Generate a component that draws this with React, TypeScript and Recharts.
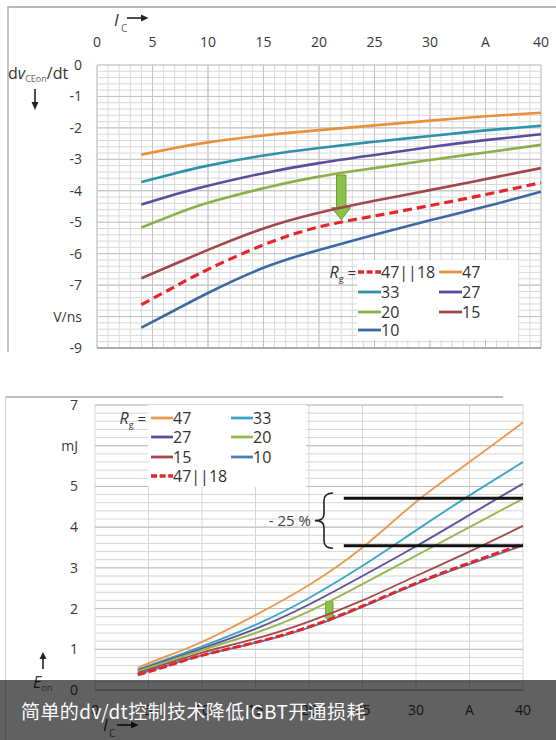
import React from 'react';
import { LineChart, Line, XAxis, YAxis, CartesianGrid, ReferenceLine, ReferenceArea } from 'recharts';

// ---------- shared ----------
const icTicks = [0, 5, 10, 15, 20, 25, 30, 35, 40];
const tickFmtX = (v: number) => (v === 35 ? 'A' : String(v));

// ---------- top chart: dv/dt (V/ns) vs Ic (A) ----------
const icTop = [4, 7, 10, 15, 20, 25, 30, 35, 40];
const dv47 = [-2.85, -2.64, -2.46, -2.24, -2.07, -1.92, -1.77, -1.63, -1.52];
const dv33 = [-3.72, -3.45, -3.2, -2.88, -2.64, -2.44, -2.26, -2.08, -1.93];
const dv27 = [-4.44, -4.12, -3.84, -3.44, -3.12, -2.86, -2.61, -2.39, -2.2];
const dv20 = [-5.17, -4.75, -4.38, -3.92, -3.55, -3.28, -3.02, -2.78, -2.54];
const dv15 = [-6.78, -6.33, -5.88, -5.2, -4.7, -4.32, -3.98, -3.63, -3.28];
const dv10 = [-8.35, -7.8, -7.25, -6.45, -5.88, -5.4, -4.94, -4.5, -4.03];
const dvPar = [-7.62, -7.05, -6.5, -5.72, -5.15, -4.8, -4.47, -4.12, -3.74];
const topYTicks = [0, -1, -2, -3, -4, -5, -6, -7, -8, -9];
const topYFmt = (v: number) => (v === -8 ? 'V/ns' : String(v));

// ---------- bottom chart: Eon (mJ) vs Ic (A) ----------
const icBot = [4, 7, 10, 15, 20, 25, 30, 35, 40];
const e47 = [0.55, 0.86, 1.18, 1.84, 2.58, 3.5, 4.62, 5.6, 6.57];
const e33 = [0.5, 0.78, 1.07, 1.6, 2.26, 3.05, 3.92, 4.78, 5.6];
const e27 = [0.48, 0.75, 1.02, 1.5, 2.1, 2.8, 3.53, 4.3, 5.07];
const e20 = [0.46, 0.72, 0.98, 1.4, 1.93, 2.6, 3.3, 4.0, 4.7];
const e15 = [0.42, 0.67, 0.92, 1.26, 1.68, 2.2, 2.8, 3.4, 4.03];
const e10 = [0.39, 0.62, 0.85, 1.16, 1.53, 2.04, 2.6, 3.09, 3.55];
const ePar = [0.37, 0.61, 0.85, 1.17, 1.55, 2.06, 2.62, 3.12, 3.58];
const botYTicks = [0, 1, 2, 3, 4, 5, 6, 7];
const botYFmt = (v: number) => (v === 6 ? 'mJ' : String(v));

// annotation values
const topArrow = { ic: 22, from: -3.5, to: -4.92 };
const botArrow = { ic: 21.9, from: 2.17, to: 1.68 };
const levelHigh = 4.71;
const levelLow = 3.54;
const levelStart = 23.25;
const braceLabel = '- 25 %';

// series keys / labels
const keys = ['r47', 'r33', 'r27', 'r20', 'r15', 'r10', 'par'];
const labels: Record<string, string> = { r47: '47', r33: '33', r27: '27', r20: '20', r15: '15', r10: '10', par: '47||18' };

const topColors: Record<string, string> = {
  r47: '#E8903C', r33: '#2E93A8', r27: '#5D4C9B', r20: '#8BB04A', r15: '#A1474B', r10: '#3C69A4', par: '#E4262A',
};
const botColors: Record<string, string> = {
  r47: '#EC9A4E', r33: '#3BA5C6', r27: '#5F509E', r20: '#95B850', r15: '#A44A4E', r10: '#4C7DB6', par: '#E4262A',
};

const topRows = icTop.map((ic, i) => ({
  ic, r47: dv47[i], r33: dv33[i], r27: dv27[i], r20: dv20[i], r15: dv15[i], r10: dv10[i], par: dvPar[i],
}));
const botRows = icBot.map((ic, i) => ({
  ic, r47: e47[i], r33: e33[i], r27: e27[i], r20: e20[i], r15: e15[i], r10: e10[i], par: ePar[i],
}));

// legend layouts (order as in picture)
const topLegendOrder = [['par', 'r47'], ['r33', 'r27'], ['r20', 'r15'], ['r10']];
const botLegendOrder = [['r47', 'r33'], ['r27', 'r20'], ['r15', 'r10'], ['par']];

// grid values
const range = (a: number, b: number, step: number) => {
  const out: number[] = [];
  for (let v = a; v <= b + 1e-9; v += step) out.push(Math.round(v * 100) / 100);
  return out;
};
const topMinorY = range(-9, 0, 0.2);
const topMinorX = range(0, 40, 1);
const botMinorY = range(0, 7, 0.2);

const FONT = '"Open Sans", "Liberation Sans", sans-serif';
const tickStyle = { fontSize: 14, fill: '#383838', fontFamily: FONT };

const ArrowShape = (props: any) => {
  const { x, y, width, height, stemRatio = 0.48, headRatio = 0.73 } = props;
  if (x == null) return null;
  const cx = x + width / 2;
  const sw = width * stemRatio;
  const hy = y + height * headRatio;
  const pts = [
    [cx - sw / 2, y], [cx + sw / 2, y], [cx + sw / 2, hy], [x + width, hy],
    [cx, y + height], [x, hy], [cx - sw / 2, hy],
  ];
  return (
    <polygon
      points={pts.map((p) => p.join(',')).join(' ')}
      fill="#8DC24A"
      stroke="#6A9C34"
      strokeWidth={1}
    />
  );
};

const BraceShape = (props: any) => {
  const { x, y, width: w, height: h } = props;
  if (x == null) return null;
  const m = x + w * 0.5;
  const d = `M ${x + w} ${y} Q ${m} ${y} ${m} ${y + h * 0.14} L ${m} ${y + h * 0.38} Q ${m} ${y + h * 0.5} ${x} ${y + h * 0.5} Q ${m} ${y + h * 0.5} ${m} ${y + h * 0.62} L ${m} ${y + h * 0.86} Q ${m} ${y + h} ${x + w} ${y + h}`;
  return (
    <g>
      <path d={d} fill="none" stroke="#222" strokeWidth={1.6} />
      <text x={x - 4} y={y + h / 2 + 5} textAnchor="end" fontSize={15} fill="#444" fontFamily={FONT}>
        {braceLabel}
      </text>
    </g>
  );
};

const LegendSample = ({ color, dashed, w }: { color: string; dashed: boolean; w: number }) => (
  <svg width={w} height={6} style={{ display: 'block' }}>
    <line x1={0} y1={3} x2={w} y2={3} stroke={color} strokeWidth={dashed ? 3.4 : 2.8} strokeDasharray={dashed ? '6 2.6' : undefined} />
  </svg>
);

const Legend = ({ order, colors, colX, rowY, sampleW }: any) => (
  <>
    {order.map((row: string[], r: number) =>
      row.map((k: string, c: number) => (
        <div
          key={k}
          style={{
            position: 'absolute', left: colX[c], top: rowY[r] - 10, height: 20,
            display: 'flex', alignItems: 'center', whiteSpace: 'nowrap',
          }}
        >
          <LegendSample color={colors[k]} dashed={k === 'par'} w={sampleW} />
          <span style={{ fontSize: 16, color: '#333', fontFamily: FONT, lineHeight: '20px' }}>{labels[k]}</span>
        </div>
      ))
    )}
  </>
);

const Rg = ({ right, cy }: { right: number; cy: number }) => (
  <div style={{ position: 'absolute', left: right - 30, width: 30, top: cy - 10, height: 20, fontFamily: FONT, color: '#333', whiteSpace: 'nowrap', textAlign: 'right', lineHeight: '20px' }}>
    <i style={{ fontSize: 16 }}>R</i>
    <span style={{ fontSize: 9, verticalAlign: -4 }}>g</span>
    <span style={{ fontSize: 15 }}> =</span>
  </div>
);

const RightArrow = ({ left, top }: { left: number; top: number }) => (
  <svg width={22} height={8} style={{ position: 'absolute', left, top }}>
    <line x1={0} y1={4} x2={15} y2={4} stroke="#222" strokeWidth={1.6} />
    <polygon points="14,0.5 21.5,4 14,7.5" fill="#222" />
  </svg>
);

export default function App() {
  return (
    <div style={{ position: 'absolute', left: 0, top: 0, width: 556, height: 740, background: '#fff', overflow: 'hidden', fontFamily: FONT }}>
      {/* frames */}
      <div style={{ position: 'absolute', left: 7, top: 6, width: 549, height: 1.5, background: '#b9b9b9' }} />
      <div style={{ position: 'absolute', left: 7, top: 6, width: 1.5, height: 346, background: '#c4c4c4' }} />
      <div style={{ position: 'absolute', left: 5, top: 396, width: 498, height: 1.5, background: '#bdbdbd' }} />
      <div style={{ position: 'absolute', left: 5, top: 396, width: 1.2, height: 344, background: '#d0d0d0' }} />

      {/* ---------- TOP CHART ---------- */}
      <div style={{ position: 'absolute', left: 0, top: 0 }}>
        <LineChart width={556} height={356} data={topRows} margin={{ top: 0, right: 15, bottom: 8, left: 0 }}>
          <CartesianGrid horizontalValues={topMinorY} verticalValues={topMinorX} stroke="#d9d9d9" strokeWidth={1} />
          <CartesianGrid horizontalValues={topYTicks} verticalValues={icTicks} stroke="#c2c2c2" strokeWidth={1} />
          <XAxis
            dataKey="ic" type="number" domain={[0, 40]} ticks={icTicks} orientation="top" height={65}
            tickFormatter={tickFmtX} tickLine={false} axisLine={false} tickSize={0} tickMargin={18} interval={0} tick={tickStyle}
          />
          <YAxis
            type="number" domain={[-9, 0]} ticks={topYTicks} width={97} tickFormatter={topYFmt}
            tickLine={false} axisLine={false} tickSize={0} tickMargin={15} interval={0} tick={tickStyle}
          />
          <ReferenceLine y={-9} stroke="#9c9c9c" strokeWidth={1.5} />
          {keys.map((k) => (
            <Line
              key={k} dataKey={k} type="natural" stroke={topColors[k]} dot={false} isAnimationActive={false}
              strokeWidth={k === 'par' ? 3.2 : 2.6} strokeDasharray={k === 'par' ? '9 5' : undefined}
            />
          ))}
          <ReferenceArea
            x1={topArrow.ic - 0.85} x2={topArrow.ic + 0.85} y1={topArrow.from} y2={topArrow.to}
            shape={<ArrowShape stemRatio={0.5} headRatio={0.73} />} ifOverflow="visible"
          />
        </LineChart>
      </div>

      {/* top axis titles */}
      <div style={{ position: 'absolute', left: 114, top: 11, fontSize: 17, fontStyle: 'italic', color: '#333', lineHeight: '18px' }}>I</div>
      <div style={{ position: 'absolute', left: 121, top: 23, fontSize: 10, color: '#666', lineHeight: '10px' }}>C</div>
      <RightArrow left={127} top={14} />

      <div style={{ position: 'absolute', left: 8, top: 64, fontSize: 16, color: '#333', lineHeight: '18px', whiteSpace: 'nowrap' }}>
        d<i>v</i>
        <span style={{ fontSize: 9, color: '#666', verticalAlign: -3 }}>CEon</span>/dt
      </div>
      <svg width={8} height={22} style={{ position: 'absolute', left: 31, top: 89 }}>
        <line x1={4} y1={0} x2={4} y2={14} stroke="#222" strokeWidth={1.6} />
        <polygon points="0.5,13 7.5,13 4,21" fill="#222" />
      </svg>

      {/* top legend */}
      <div style={{ position: 'absolute', left: 357, top: 260, width: 161, height: 80, background: '#fff' }} />
      <Rg right={356} cy={272} />
      <Legend order={topLegendOrder} colors={topColors} colX={[358, 439]} rowY={[272, 291.5, 311.5, 330]} sampleW={23} />

      {/* ---------- BOTTOM CHART ---------- */}
      <div style={{ position: 'absolute', left: 0, top: 396 }}>
        <LineChart width={556} height={344} data={botRows} margin={{ top: 9, right: 33, bottom: 0, left: 0 }}>
          <CartesianGrid horizontalValues={botMinorY} verticalValues={icTicks} stroke="#d6d6d6" strokeWidth={1} />
          <CartesianGrid horizontalValues={botYTicks} vertical={false} stroke="#c0c0c0" strokeWidth={1} />
          <XAxis
            dataKey="ic" type="number" domain={[0, 40]} ticks={icTicks} height={50}
            tickFormatter={tickFmtX} tickLine={false} axisLine={{ stroke: '#a8a8a8' }} tickSize={0} tickMargin={15} interval={0} tick={tickStyle}
          />
          <YAxis
            type="number" domain={[0, 7]} ticks={botYTicks} width={95} tickFormatter={botYFmt}
            tickLine={false} axisLine={false} tickSize={0} tickMargin={17} interval={0} tick={tickStyle}
          />
          {keys.map((k) => (
            <Line
              key={k} dataKey={k} type="natural" stroke={botColors[k]} dot={false} isAnimationActive={false}
              strokeWidth={k === 'par' ? 3 : 1.9} strokeDasharray={k === 'par' ? '8 3' : undefined}
            />
          ))}
          <ReferenceLine segment={[{ x: levelStart, y: levelHigh }, { x: 40, y: levelHigh }]} stroke="#111" strokeWidth={3} ifOverflow="visible" />
          <ReferenceLine segment={[{ x: levelStart, y: levelLow }, { x: 40, y: levelLow }]} stroke="#111" strokeWidth={3} ifOverflow="visible" />
          <ReferenceArea x1={20.55} x2={22.25} y1={3.48} y2={4.84} shape={<BraceShape />} ifOverflow="visible" />
          <ReferenceArea
            x1={botArrow.ic - 0.55} x2={botArrow.ic + 0.55} y1={botArrow.from} y2={botArrow.to}
            shape={<ArrowShape stemRatio={0.62} headRatio={0.7} />} ifOverflow="visible"
          />
        </LineChart>
      </div>

      {/* bottom legend */}
      <div style={{ position: 'absolute', left: 148, top: 405, width: 158, height: 82, background: '#fff' }} />
      <Rg right={146} cy={418} />
      <Legend order={botLegendOrder} colors={botColors} colX={[151, 231]} rowY={[418, 437, 456.5, 476]} sampleW={22} />

      {/* bottom axis titles */}
      <svg width={8} height={18} style={{ position: 'absolute', left: 39, top: 652 }}>
        <polygon points="4,0 0.5,7 7.5,7" fill="#222" />
        <line x1={4} y1={6} x2={4} y2={17} stroke="#222" strokeWidth={1.6} />
      </svg>
      <div style={{ position: 'absolute', left: 33, top: 673, fontSize: 16, color: '#333', lineHeight: '18px', whiteSpace: 'nowrap' }}>
        <i>E</i>
        <span style={{ fontSize: 9, color: '#666', verticalAlign: -3 }}>on</span>
      </div>
      <div style={{ position: 'absolute', left: 103, top: 716, fontSize: 17, fontStyle: 'italic', color: '#333', lineHeight: '18px' }}>I</div>
      <div style={{ position: 'absolute', left: 109, top: 728, fontSize: 10, color: '#666', lineHeight: '10px' }}>C</div>
      <RightArrow left={117} top={721} />

      {/* caption bar */}
      <div
        style={{
          position: 'absolute', left: 0, top: 680, width: 556, height: 60, background: 'rgba(0,0,0,0.62)',
          color: '#fbfbfb', fontSize: 19, letterSpacing: 0.4, fontFamily: '"Noto Sans CJK SC", sans-serif', paddingLeft: 21,
          boxSizing: 'border-box', display: 'flex', alignItems: 'center', whiteSpace: 'nowrap',
        }}
      >
        简单的dv/dt控制技术降低IGBT开通损耗
      </div>
    </div>
  );
}
